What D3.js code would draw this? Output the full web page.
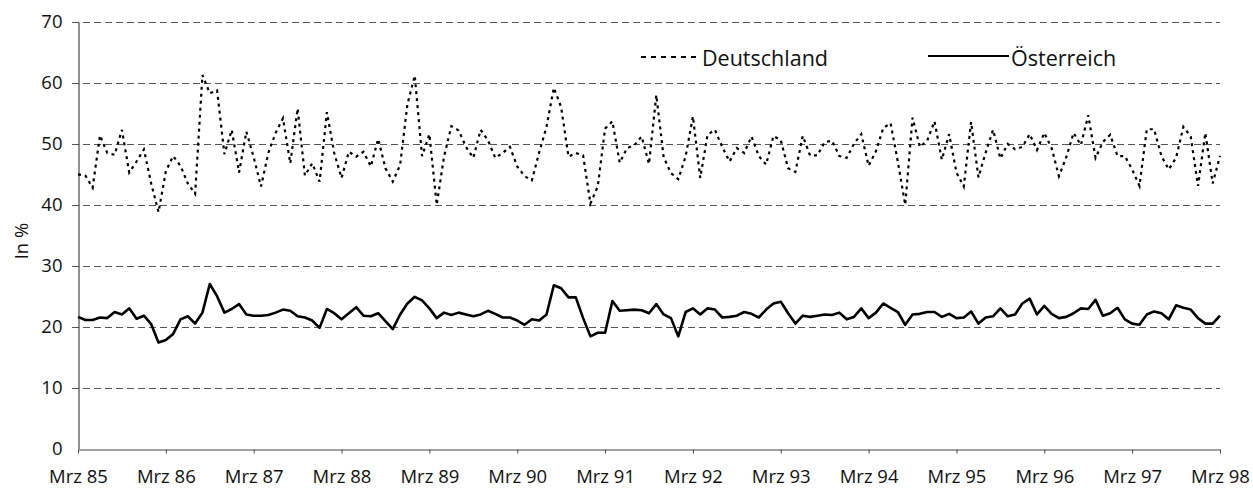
<!DOCTYPE html>
<html><head><meta charset="utf-8">
<script src="https://cdn.jsdelivr.net/npm/d3@7"></script>
<style>
html,body{margin:0;padding:0;background:#fff;}
svg text{font-family:"Open Sans","DejaVu Sans",sans-serif;fill:#111;}
</style></head>
<body><svg id="c" width="1253" height="493"></svg>
<script>
const tickLabels = ["Mrz 85","Mrz 86","Mrz 87","Mrz 88","Mrz 89","Mrz 90","Mrz 91","Mrz 92","Mrz 93","Mrz 94","Mrz 95","Mrz 96","Mrz 97","Mrz 98"];
const yTicks = [0,10,20,30,40,50,60,70];
const seriesNames = ["Deutschland","Österreich"];
const deutschland = [
45.0,44.8,42.8,51.4,48.5,48.2,52.3,45.3,47.1,49.1,
43.5,38.8,45.5,48.0,46.4,43.5,41.8,61.3,58.3,58.8,
48.3,52.3,45.3,52.0,47.8,43.0,48.5,51.8,54.2,46.8,
55.8,44.8,46.8,43.8,55.2,48.5,44.4,48.7,47.9,48.7,
46.3,50.8,46.0,43.8,46.5,56.5,61.2,48.0,51.6,40.0,
47.9,52.9,52.2,49.5,47.7,52.3,50.6,47.7,48.5,49.5,
46.3,44.7,44.0,48.6,52.8,59.2,56.0,47.9,48.5,48.1,
40.2,43.0,52.5,53.7,46.9,49.3,49.8,51.2,46.7,58.0,
47.8,45.2,44.2,47.9,54.5,44.4,51.5,52.3,49.5,47.1,
49.3,48.5,51.2,48.0,46.6,51.3,50.6,46.0,45.4,51.3,
48.1,48.1,50.3,50.5,48.0,47.7,50.0,51.6,46.4,48.8,
52.6,53.4,47.0,40.0,54.3,49.5,50.5,53.7,47.4,51.6,
45.3,43.0,53.6,44.5,48.6,52.3,47.6,50.0,49.1,49.5,
51.6,49.0,51.8,49.3,44.7,47.8,51.8,49.8,54.7,47.7,
50.3,51.5,48.0,48.0,45.8,43.1,52.4,52.4,48.0,45.8,
47.7,52.8,51.2,43.1,51.8,43.5,48.0];
const oesterreich = [
21.6,21.1,21.1,21.5,21.4,22.4,22.0,23.0,21.3,21.8,
20.4,17.4,17.8,18.8,21.2,21.7,20.5,22.3,27.0,25.0,
22.3,22.9,23.7,22.0,21.8,21.8,21.9,22.3,22.8,22.6,
21.7,21.5,21.0,19.8,22.9,22.2,21.2,22.2,23.2,21.8,
21.7,22.2,20.9,19.6,22.0,23.8,24.9,24.3,23.0,21.4,
22.3,21.9,22.3,22.0,21.7,22.0,22.6,22.1,21.5,21.5,
21.0,20.3,21.2,21.0,22.0,26.8,26.3,24.8,24.8,21.4,
18.4,19.0,19.0,24.2,22.6,22.7,22.8,22.7,22.2,23.7,
22.0,21.4,18.4,22.4,23.0,22.0,23.0,22.8,21.5,21.6,
21.8,22.4,22.1,21.5,22.8,23.8,24.1,22.2,20.5,21.8,
21.6,21.8,22.0,21.9,22.3,21.2,21.6,23.0,21.4,22.3,
23.8,23.1,22.4,20.3,22.0,22.1,22.4,22.4,21.6,22.1,
21.4,21.5,22.5,20.5,21.5,21.7,23.0,21.7,22.0,23.8,
24.6,22.0,23.4,22.1,21.4,21.6,22.2,23.0,22.9,24.4,
21.8,22.2,23.1,21.2,20.5,20.3,22.0,22.5,22.2,21.2,
23.5,23.1,22.8,21.4,20.5,20.5,21.8];

const svg = d3.select("#c");
const L = 78, R = 1220, T = 22, B = 448.5;
const x = d3.scaleLinear().domain([0, deutschland.length - 1]).range([L, R]);
const y = d3.scaleLinear().domain([0, 70]).range([B, T]);

// grid lines
svg.append("g").selectAll("line").data(yTicks.filter(d => d > 0)).join("line")
  .attr("x1", L - 6).attr("x2", R)
  .attr("y1", d => Math.round(y(d)) + 0.5).attr("y2", d => Math.round(y(d)) + 0.5)
  .attr("stroke", "#555").attr("stroke-width", 1).attr("stroke-dasharray", "7,4");

// y axis
const yAxis = d3.axisLeft(y).tickValues(yTicks).tickSize(0).tickPadding(16);
const gy = svg.append("g").attr("transform", `translate(${L + 0.5},0)`).call(yAxis);
gy.select(".domain").attr("stroke", "#222").attr("stroke-width", 1);
gy.selectAll("text").attr("font-size", 18.5).style("font-family", '"Open Sans",sans-serif').attr("fill", "#111");

// x axis
const xAxis = d3.axisBottom(x).tickValues(tickLabels.map((d, i) => i * 12))
  .tickFormat((d, i) => tickLabels[i]).tickSize(4).tickSizeOuter(0).tickPadding(16);
const gx = svg.append("g").attr("transform", `translate(0,${Math.round(B) + 0.5})`).call(xAxis);
gx.select(".domain").attr("stroke", "#444");
gx.selectAll(".tick line").attr("stroke", "#444");
gx.selectAll("text").attr("font-size", 18.5).style("font-family", '"Open Sans",sans-serif').attr("fill", "#111");

// y label
svg.append("text").attr("transform", "translate(28,241) rotate(-90)")
  .attr("text-anchor", "middle").attr("font-size", 18.5).text("In %");

const line = d3.line().x((d, i) => x(i)).y(d => y(d));
svg.append("path").datum(oesterreich).attr("d", line)
  .attr("fill", "none").attr("stroke", "#000").attr("stroke-width", 2.6).attr("stroke-linejoin", "round");
svg.append("path").datum(deutschland).attr("d", line)
  .attr("fill", "none").attr("stroke", "#000").attr("stroke-width", 2.2).attr("stroke-dasharray", "3,4");

// legend
const lg = svg.append("g");
lg.append("line").attr("x1", 641).attr("x2", 698).attr("y1", 57).attr("y2", 57)
  .attr("stroke", "#000").attr("stroke-width", 2).attr("stroke-dasharray", "5,5");
lg.append("text").attr("x", 702).attr("y", 66).attr("font-size", 21.5).text(seriesNames[0]);
lg.append("line").attr("x1", 928).attr("x2", 1009).attr("y1", 56).attr("y2", 56)
  .attr("stroke", "#000").attr("stroke-width", 2.2);
lg.append("text").attr("x", 1011).attr("y", 66).attr("font-size", 21.5).text(seriesNames[1]);
</script></body></html>
